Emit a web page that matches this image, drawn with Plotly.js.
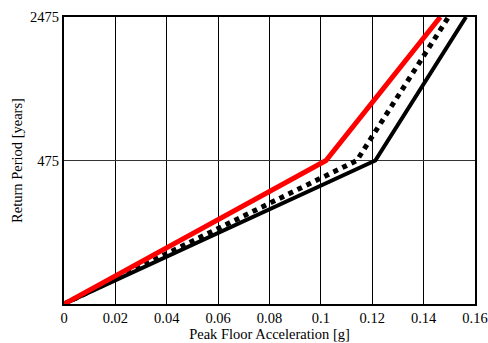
<!DOCTYPE html>
<html><head><meta charset="utf-8">
<script src="https://cdn.plot.ly/plotly-3.0.1.min.js"></script>
<style>html,body{margin:0;padding:0;background:#fff}</style>
</head><body><div id="chart" style="width:488px;height:343px"></div>
<script>
// Return-period levels (plotted at equally spaced positions)
const returnPeriods = [0, 475, 2475];
const levelIndex = [0, 1, 2];
const pfaSolidBlack = [0, 0.1212, 0.1565];
const pfaDottedBlack = [0, 0.1140, 0.1497];
const pfaRed = [0, 0.1020, 0.1465];
const xTicks = [0, 0.02, 0.04, 0.06, 0.08, 0.1, 0.12, 0.14, 0.16];
const yTickVals = [1, 2];
const yTickText = ['475', '2475'];

const traces = [
  {x: pfaSolidBlack, y: levelIndex, mode: 'lines', line: {color: '#000', width: 4}},
  {x: pfaDottedBlack, y: levelIndex, mode: 'lines', line: {color: '#000', width: 5, dash: 'dot'}},
  {x: pfaRed, y: levelIndex, mode: 'lines', line: {color: '#ff0000', width: 5}}
];
const fam = 'Liberation Serif';
const layout = {
  width: 488, height: 343,
  margin: {l: 64, r: 13, t: 17, b: 39},
  paper_bgcolor: '#fff', plot_bgcolor: '#fff',
  showlegend: false,
  font: {family: fam, color: '#000', size: 14},
  xaxis: {
    range: [0, 0.16], tickvals: xTicks, ticktext: xTicks.map(String),
    showgrid: true, gridcolor: '#000', gridwidth: 1,
    zeroline: false, showline: true, linecolor: '#000', linewidth: 2, mirror: true,
    ticks: '', tickfont: {size: 14.5, color: '#000'},
    title: {text: 'Peak Floor Acceleration [g]', font: {size: 14.5, color: '#000'}, standoff: 0}
  },
  yaxis: {
    range: [0, 2], tickvals: yTickVals, ticktext: yTickText,
    showgrid: true, gridcolor: '#333', gridwidth: 1,
    zeroline: false, showline: true, linecolor: '#000', linewidth: 2, mirror: true,
    ticks: '', tickfont: {size: 14.5, color: '#000'},
    title: {text: 'Return Period [years]', font: {size: 14.5, color: '#000'}, standoff: 4}
  }
};
Plotly.newPlot('chart', traces, layout, {displayModeBar: false, staticPlot: true});
</script></body></html>
